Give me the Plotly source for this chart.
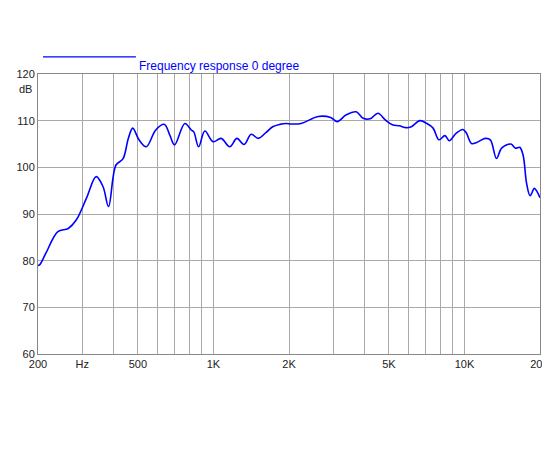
import plotly.graph_objects as go

# Frequency response
freq = [200, 203, 215, 240, 264, 284, 312, 341, 363, 382, 409, 436, 458, 477, 505, 540,
        589, 638, 670, 700, 769, 816, 835, 873, 924, 997, 1073, 1161, 1240, 1325, 1414,
        1509, 1622, 1722, 1835, 1953, 2030, 2235, 2613, 2929, 3114, 3371, 3706, 3951,
        4210, 4525, 4851, 5162, 5500, 5862, 6145, 6650, 7080, 7500, 7914, 8360, 8700,
        9260, 9870, 10190, 10670, 11180, 12100, 12680, 13420, 14070, 15320, 15970,
        16600, 17130, 17680, 18270, 18980, 19460, 20000]
spl = [79.0, 79.1, 81.6, 86.2, 86.9, 88.7, 93.4, 98.0, 95.9, 91.6, 100.5, 101.8, 106.2,
       108.4, 105.9, 104.4, 108.0, 109.2, 106.9, 104.8, 109.4, 108.0, 107.6, 104.4, 107.8,
       105.5, 106.2, 104.4, 106.2, 104.9, 107.1, 106.2, 107.5, 108.7, 109.2, 109.4, 109.3,
       109.4, 110.9, 110.7, 109.8, 111.2, 111.9, 110.5, 110.4, 111.6, 110.1, 109.1, 108.9,
       108.5, 108.7, 110.0, 109.4, 108.4, 105.9, 106.8, 105.7, 107.3, 108.1, 107.3, 105.1,
       105.3, 106.2, 105.9, 101.9, 104.1, 105.0, 104.1, 104.3, 102.6, 96.6, 93.9, 95.5,
       94.8, 93.5]

grid_x = [200, 300, 400, 500, 600, 700, 800, 900, 1000, 2000, 3000, 4000, 5000, 6000,
          7000, 8000, 9000, 10000, 20000]
label_x = {200: "200", 300: "Hz", 500: "500", 1000: "1K", 2000: "2K", 5000: "5K",
           10000: "10K", 20000: "20K"}
y_ticks = [60, 70, 80, 90, 100, 110, 120]

fig = go.Figure()
fig.add_trace(go.Scatter(x=freq, y=spl, mode="lines", line=dict(color="#0000ff", width=1.6),
                         line_shape="spline", showlegend=False))

fig.update_layout(
    width=550, height=450,
    margin=dict(l=30, r=18, t=66, b=104),
    paper_bgcolor="white", plot_bgcolor="white",
    font=dict(family="Liberation Sans, Arial", size=11, color="#222"),
    xaxis=dict(type="log", range=[2.30103, 4.30103], automargin=False,
               tickvals=grid_x, ticktext=[label_x.get(v, "") for v in grid_x],
               showgrid=True, gridcolor="#aaaaaa", gridwidth=1,
               showline=True, linecolor="#888", mirror=True, ticks="", zeroline=False),
    yaxis=dict(range=[60, 120], tickvals=y_ticks, showgrid=True, gridcolor="#aaaaaa",
               automargin=False,
               showline=True, linecolor="#888", mirror=True, ticks="", zeroline=False),
)
fig.add_annotation(x=0, y=116.7, xref="paper", yref="y", xanchor="right", text="dB",
                   showarrow=False, xshift=-4, font=dict(size=11))
fig.add_shape(type="line", xref="paper", yref="paper", x0=0.01, x1=0.195, y0=1.061, y1=1.061,
              line=dict(color="#0000ff", width=1.3))
fig.add_annotation(x=0.197, y=1.061, xref="paper", yref="paper", xanchor="left",
                   text="Frequency response 0 degree", showarrow=False,
                   font=dict(size=12, color="#0000ff"))

fig.write_html("out.html")
